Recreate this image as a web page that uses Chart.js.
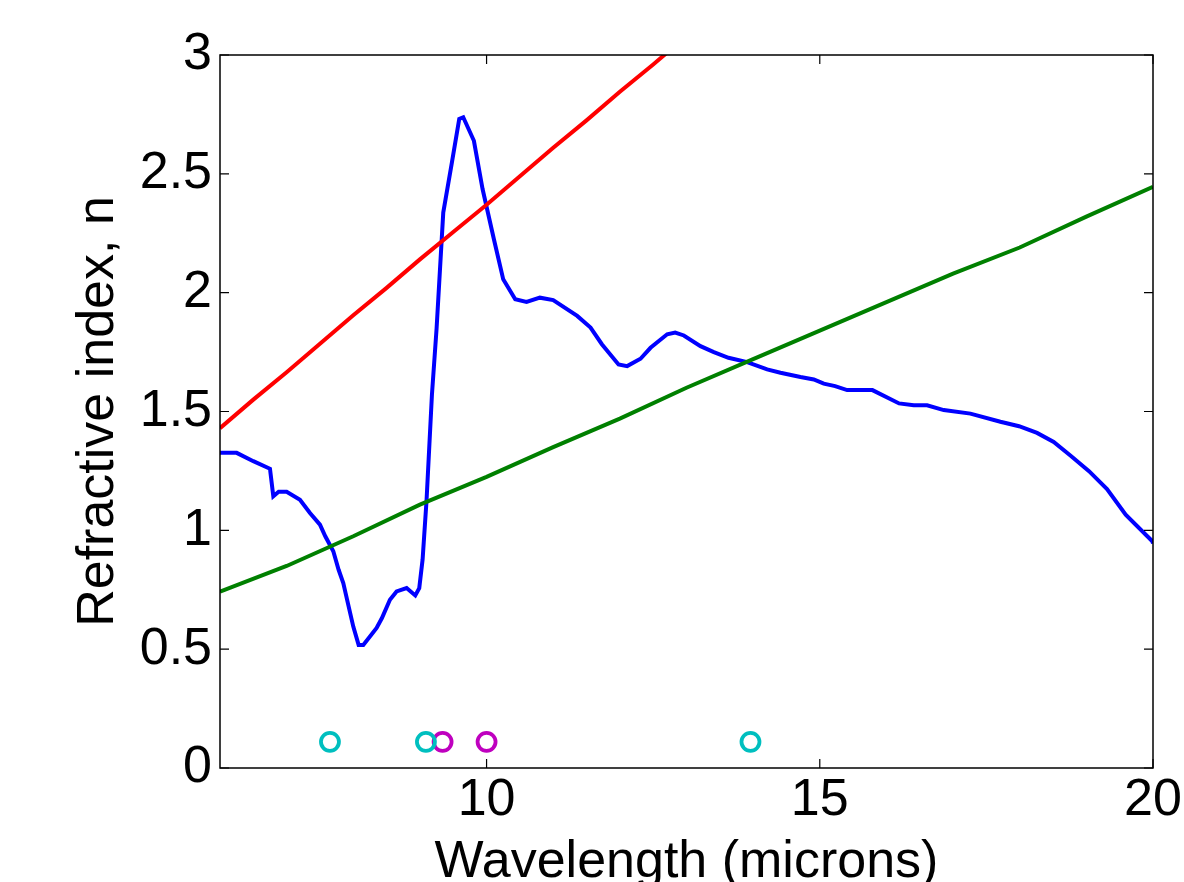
<!DOCTYPE html>
<html>
<head>
<meta charset="utf-8">
<script src="https://cdn.jsdelivr.net/npm/chart.js@4.4.0/dist/chart.umd.min.js"></script>
<style>
html, body { margin: 0; padding: 0; background: #fff; }
#wrap { width: 1184px; height: 882px; }
</style>
</head>
<body>
<div id="wrap"><canvas id="myChart" width="1184" height="882"></canvas></div>
<script>
// measured refractive index (blue)
var blueX = [6.0, 6.25, 6.5, 6.75, 6.8, 6.88, 7.0, 7.2, 7.35, 7.5, 7.58, 7.7, 7.78, 7.85, 7.93, 8.0, 8.08, 8.15,
    8.25, 8.35, 8.43, 8.55, 8.65, 8.8, 8.93, 8.99, 9.04, 9.1, 9.18, 9.25, 9.35, 9.48, 9.59, 9.65, 9.81, 9.94,
    10.11, 10.25, 10.43, 10.6, 10.8, 11.0, 11.36, 11.56, 11.73, 11.98, 12.11, 12.31, 12.46, 12.71, 12.83, 12.96,
    13.21, 13.41, 13.63, 13.91, 14.21, 14.41, 14.71, 14.91, 15.06, 15.23, 15.41, 15.79, 16.19, 16.41, 16.61,
    16.86, 17.26, 17.71, 17.99, 18.26, 18.51, 18.76, 19.04, 19.31, 19.59, 19.99, 20.0];
var blueY = [1.326, 1.326, 1.291, 1.259, 1.143, 1.162, 1.162, 1.129, 1.073, 1.024, 0.975, 0.912, 0.834, 0.778, 0.68, 0.595, 0.518, 0.518,
    0.553, 0.589, 0.631, 0.708, 0.743, 0.757, 0.726, 0.757, 0.877, 1.129, 1.57, 1.85, 2.337, 2.548, 2.731, 2.738, 2.639, 2.436,
    2.225, 2.056, 1.972, 1.961, 1.979, 1.969, 1.902, 1.853, 1.783, 1.698, 1.691, 1.722, 1.768, 1.825, 1.832, 1.82,
    1.775, 1.75, 1.726, 1.708, 1.677, 1.663, 1.645, 1.635, 1.617, 1.607, 1.59, 1.59, 1.534, 1.526, 1.526,
    1.506, 1.491, 1.457, 1.438, 1.41, 1.372, 1.315, 1.249, 1.174, 1.066, 0.954, 0.945];

// red curve
var redX = [6, 6.5, 7, 7.5, 8, 8.5, 9, 9.5, 10, 10.5, 11, 11.5, 12, 12.5, 13];
var redY = [1.43, 1.55, 1.665, 1.785, 1.905, 2.02, 2.14, 2.255, 2.37, 2.49, 2.61, 2.725, 2.845, 2.96, 3.08];

// green curve
var greenX = [6, 7, 8, 9, 10, 11, 12, 13, 14, 15, 16, 17, 18, 19, 20];
var greenY = [0.742, 0.85, 0.975, 1.108, 1.225, 1.35, 1.47, 1.6, 1.72, 1.84, 1.96, 2.08, 2.19, 2.32, 2.445];

// circle markers near the bottom
var cyanX = [7.65, 9.09, 13.96];
var cyanY = [0.11, 0.11, 0.11];
var magentaX = [9.34, 10.0];
var magentaY = [0.11, 0.11];

var xTicks = [10, 15, 20];
var yTicks = [0, 0.5, 1, 1.5, 2, 2.5, 3];

var toPts = (xs, ys) => xs.map((x, i) => ({x: x, y: ys[i]}));

var FONT = "'Liberation Sans', Arial, sans-serif";

// black box round the plot with small inward ticks
var boxPlugin = {
    id: 'boxPlugin',
    afterDatasetsDraw(chart) {
        var ctx = chart.ctx;
        var a = chart.chartArea;
        var xs = chart.scales.x, ys = chart.scales.y;
        var len = 9;
        ctx.save();
        ctx.strokeStyle = '#000';
        ctx.lineWidth = 1.5;
        ctx.strokeRect(a.left, a.top, a.right - a.left, a.bottom - a.top);
        ctx.lineWidth = 1.2;
        ctx.beginPath();
        xTicks.forEach(v => {
            var px = xs.getPixelForValue(v);
            ctx.moveTo(px, a.bottom); ctx.lineTo(px, a.bottom - len);
            ctx.moveTo(px, a.top); ctx.lineTo(px, a.top + len);
        });
        yTicks.forEach(v => {
            var py = ys.getPixelForValue(v);
            ctx.moveTo(a.left, py); ctx.lineTo(a.left + len, py);
            ctx.moveTo(a.right, py); ctx.lineTo(a.right - len, py);
        });
        ctx.stroke();
        ctx.restore();
    }
};

new Chart('myChart', {
    type: 'line',
    data: {
        datasets: [
            { data: toPts(redX, redY), borderColor: '#ff0000', borderWidth: 4, pointRadius: 0, fill: false, tension: 0 },
            { data: toPts(greenX, greenY), borderColor: '#008000', borderWidth: 4, pointRadius: 0, fill: false, tension: 0 },
            { data: toPts(blueX, blueY), borderColor: '#0000ff', borderWidth: 4, pointRadius: 0, fill: false, tension: 0 },
            { data: toPts(cyanX, cyanY), showLine: false, pointRadius: 9, pointBorderWidth: 3.8,
              pointBorderColor: '#00bfbf', pointBackgroundColor: 'rgba(0,0,0,0)', borderColor: '#00bfbf' },
            { data: toPts(magentaX, magentaY), showLine: false, pointRadius: 9, pointBorderWidth: 3.8,
              pointBorderColor: '#bf00bf', pointBackgroundColor: 'rgba(0,0,0,0)', borderColor: '#bf00bf' }
        ]
    },
    options: {
        responsive: false,
        animation: false,
        layout: { padding: { top: 55, right: 31, left: 0, bottom: 0 } },
        plugins: { legend: { display: false }, tooltip: { enabled: false } },
        scales: {
            x: {
                type: 'linear',
                min: 6, max: 20,
                grid: { display: false, drawTicks: false },
                border: { display: false },
                afterBuildTicks: (s) => { s.ticks = xTicks.map(v => ({value: v})); },
                afterFit: (s) => { s.height = 114; s.paddingLeft = 0; s.paddingRight = 0; },
                ticks: {
                    color: '#000', padding: 7, maxRotation: 0,
                    font: { family: FONT, size: 52, lineHeight: 1 },
                    callback: (v) => String(v)
                },
                title: {
                    display: true, text: 'Wavelength (microns)', color: '#000',
                    font: { family: FONT, size: 52, lineHeight: 1 },
                    padding: { top: 0, bottom: -7 }
                }
            },
            y: {
                type: 'linear',
                min: 0, max: 3,
                grid: { display: false, drawTicks: false },
                border: { display: false },
                afterBuildTicks: (s) => { s.ticks = yTicks.map(v => ({value: v})); },
                afterFit: (s) => { s.width = 220; s.paddingTop = 0; s.paddingBottom = 0; },
                ticks: {
                    color: '#000', padding: 8,
                    font: { family: FONT, size: 52, lineHeight: 1 },
                    callback: (v) => String(v)
                },
                title: {
                    display: true, text: 'Refractive index, n', color: '#000',
                    font: { family: FONT, size: 52, lineHeight: 1 },
                    padding: { top: 73, bottom: 0 }
                }
            }
        }
    },
    plugins: [boxPlugin]
});
</script>
</body>
</html>
